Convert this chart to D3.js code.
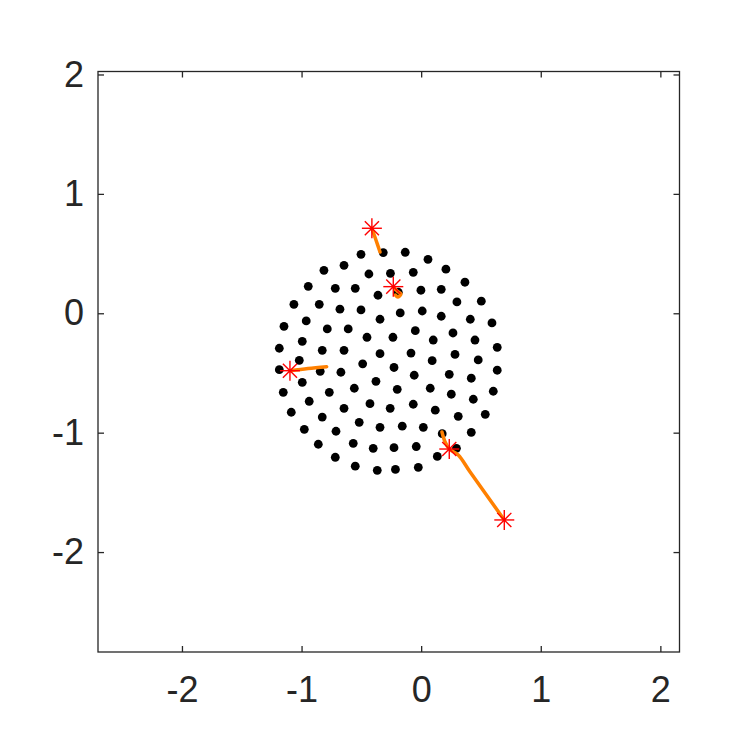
<!DOCTYPE html>
<html><head><meta charset="utf-8">
<script src="https://cdn.jsdelivr.net/npm/d3@7"></script>
<style>body{margin:0;background:#fff}svg{display:block}</style>
</head><body>
<svg id="chart" width="750" height="750"></svg>
<script>
// Black dots (x, y)
const dotX = [-0.317,-0.503,-0.645,-0.813,-0.437,-0.257,-0.944,-0.718,-0.551,-0.361,-1.064,-0.852,-0.679,-0.503,-0.344,-1.147,-0.961,-0.785,-0.610,-0.453,-0.236,-1.186,-0.994,-0.827,-0.645,-0.344,-1.019,-0.489,-0.133,0.057,0.207,-0.066,0.366,-0.191,-0.002,0.168,0.503,0.299,-0.175,0.009,0.168,0.411,0.592,-0.049,0.266,0.101,0.450,0.636,-0.085,0.283,0.092,0.477,-0.227,-1.186,-0.844,-0.671,-0.994,-1.153,-0.768,-0.559,-0.378,-0.936,-1.086,-0.645,-0.428,-0.259,-0.827,-0.518,-0.344,-0.977,-0.712,-0.860,-0.568,-0.401,-0.227,-0.718,-0.551,-0.367,-0.215,-0.058,0.235,0.419,0.636,-0.200,0.076,0.252,0.436,0.603,-0.066,0.118,0.310,0.536,-0.158,0.018,0.176,0.419,-0.041,0.135,0.295,-0.024];
const dotY = [0.508,0.494,0.402,0.360,0.329,0.335,0.226,0.209,0.209,0.151,0.075,0.075,0.034,0.028,-0.050,-0.109,-0.064,-0.131,-0.131,-0.201,-0.201,-0.293,-0.235,-0.310,-0.310,-0.338,-0.394,-0.423,0.511,0.452,0.369,0.343,0.260,0.176,0.193,0.201,0.101,0.095,0.003,0.019,-0.025,-0.050,-0.081,-0.146,-0.165,-0.224,-0.224,-0.285,-0.333,-0.345,-0.397,-0.391,-0.454,-0.472,-0.486,-0.494,-0.578,-0.662,-0.662,-0.628,-0.570,-0.737,-0.829,-0.796,-0.757,-0.796,-0.869,-0.913,-0.955,-0.972,-0.988,-1.097,-1.089,-1.131,-1.126,-1.206,-1.281,-1.315,-1.308,-0.519,-0.511,-0.544,-0.477,-0.637,-0.628,-0.678,-0.720,-0.653,-0.762,-0.812,-0.863,-0.846,-0.946,-0.955,-1.008,-0.997,-1.116,-1.199,-1.131,-1.290];

// Orange trajectories
const trajX = [
  [-0.412,-0.378,-0.344],
  [-0.233,-0.202,-0.169,-0.194,-0.215],
  [-1.097,-0.946,-0.790],
  [0.174,0.199,0.235,0.310,0.408,0.695]
];
const trajY = [
  [0.712,0.614,0.513],
  [0.223,0.187,0.162,0.137,0.153],
  [-0.481,-0.462,-0.447],
  [-0.994,-1.075,-1.137,-1.187,-1.327,-1.731]
];

// Red star markers
const starX = [-0.412,-0.233,-1.097,0.235,0.695];
const starY = [0.712,0.223,-0.481,-1.137,-1.731];

// Ticks
const xTicks = [-2,-1,0,1,2];
const yTicks = [-2,-1,0,1,2];
const xDomain = [-2.702, 2.160];
const yDomain = [-2.837, 2.025];

const L = 98, R = 679.5, T = 71.5, B = 652;
const x = d3.scaleLinear().domain(xDomain).range([L, R]);
const y = d3.scaleLinear().domain(yDomain).range([B, T]);

const svg = d3.select("#chart");
svg.append("rect").attr("width",750).attr("height",750).attr("fill","#fff");

const axisColor = "#262626";
const font = "'Liberation Sans', Arial, Helvetica, sans-serif";

function styleAxis(g){
  g.select(".domain").remove();
  g.selectAll(".tick line").attr("stroke", axisColor).attr("stroke-width", 1.3);
  g.selectAll(".tick text").attr("fill", axisColor).style("font-family", font).style("font-size","36px");
}

svg.append("g").attr("transform",`translate(0,${B})`)
  .call(d3.axisBottom(x).tickValues(xTicks).tickSize(-6).tickPadding(24).tickFormat(d3.format("d")))
  .call(styleAxis);
svg.append("g").attr("transform",`translate(0,${T})`)
  .call(d3.axisTop(x).tickValues(xTicks).tickSize(-6).tickFormat(""))
  .call(styleAxis);
svg.append("g").attr("transform",`translate(${L},0)`)
  .call(d3.axisLeft(y).tickValues(yTicks).tickSize(-6).tickPadding(14).tickFormat(d3.format("d")))
  .call(styleAxis);
svg.append("g").attr("transform",`translate(${R},0)`)
  .call(d3.axisRight(y).tickValues(yTicks).tickSize(-6).tickFormat(""))
  .call(styleAxis);

svg.selectAll(".tick text").text(function(){ return d3.select(this).text().replace("\u2212","-"); });

svg.append("rect").attr("x",L).attr("y",T).attr("width",R-L).attr("height",B-T)
  .attr("fill","none").attr("stroke",axisColor).attr("stroke-width",1.3);

// dots
svg.append("g").selectAll("circle").data(dotX.map((d,i)=>[d,dotY[i]])).join("circle")
  .attr("cx",d=>x(d[0])).attr("cy",d=>y(d[1])).attr("r",4.4).attr("fill","#000");

// trajectories
const line = d3.line().x(d=>x(d[0])).y(d=>y(d[1])).curve(d3.curveCatmullRom);
svg.append("g").selectAll("path").data(trajX.map((xs,k)=>xs.map((v,i)=>[v,trajY[k][i]]))).join("path")
  .attr("d",line).attr("fill","none").attr("stroke","#ff8000").attr("stroke-width",3.5)
  .attr("stroke-linecap","round").attr("stroke-linejoin","round");

// stars
const s = 10;
const sg = svg.append("g").selectAll("g").data(starX.map((d,i)=>[d,starY[i]])).join("g")
  .attr("transform",d=>`translate(${x(d[0])},${y(d[1])})`);
const d7 = s*0.7071;
[[-s,0,s,0],[0,-s,0,s],[-d7,-d7,d7,d7],[-d7,d7,d7,-d7]].forEach(a=>{
  sg.append("line").attr("x1",a[0]).attr("y1",a[1]).attr("x2",a[2]).attr("y2",a[3])
    .attr("stroke","#ff0000").attr("stroke-width",1.4);
});
</script>
</body></html>
